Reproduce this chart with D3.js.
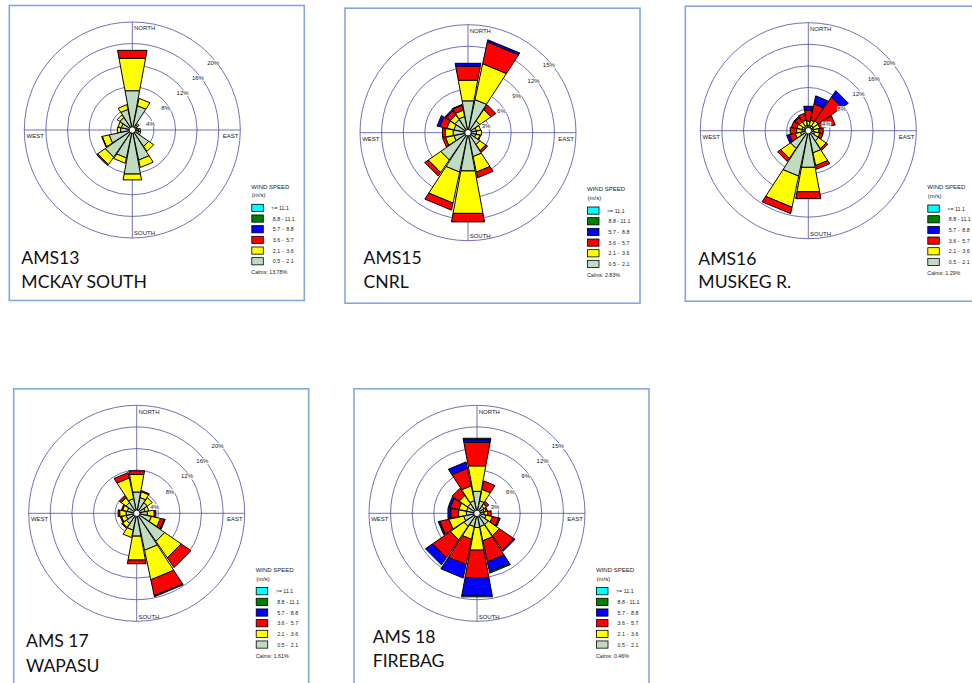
<!DOCTYPE html>
<html>
<head>
<meta charset="utf-8">
<script src="https://cdn.jsdelivr.net/npm/d3@7"></script>
<style>
  body { margin: 0; background: #ffffff; }
  svg { display: block; }
</style>
</head>
<body>
<svg id="chart" width="972" height="683"></svg>
<script>
// Compass sectors, clockwise from north
const directions = ["N","NNE","NE","ENE","E","ESE","SE","SSE","S","SSW","SW","WSW","W","WNW","NW","NNW"];
// Wind speed classes (m/s), lowest first
const speedClasses = ["0.5 -  2.1","2.1 -  3.6","3.6 -  5.7","5.7 -  8.8","8.8 - 11.1",">= 11.1"];

const stationCodes = ["AMS13","AMS15","AMS16","AMS 17","AMS 18"];
const stationNames = ["MCKAY SOUTH","CNRL","MUSKEG R.","WAPASU","FIREBAG"];
const calmPercent = [13.78, 2.83, 1.29, 1.61, 0.46];

// Ring tick values (%)
const ringTicks20 = [4, 8, 12, 16, 20];
const ringTicks15 = [3, 6, 9, 12, 15];

// Frequency (%) per speed class (rows, lowest class first) and direction (columns)
const ams13Freq = [
  [7.4, 4.6, 1.2, 0.8, 1.2, 1.2, 3.7, 5.7, 8.3, 5.3, 6.1, 4.4, 2.2, 2.1, 2.8, 3.9],
  [6.1, 1.4, 0.3, 0.2, 0.3, 0.4, 1.1, 1.4, 1.1, 1.0, 1.7, 1.3, 0.6, 0.6, 0.6, 0.9],
  [1.5, 0.0, 0.0, 0.0, 0.0, 0.0, 0.0, 0.0, 0.0, 0.0, 0.2, 0.1, 0.0, 0.0, 0.0, 0.0]
];
const ams15Freq = [
  [4.5, 4.7, 2.0, 1.2, 1.2, 1.1, 2.0, 3.4, 5.4, 5.6, 4.6, 2.0, 2.1, 2.0, 2.2, 2.3],
  [2.9, 5.1, 1.9, 0.6, 0.7, 0.6, 1.0, 2.2, 6.0, 4.4, 2.1, 1.2, 1.1, 1.0, 0.8, 0.9],
  [2.0, 3.1, 0.8, 0.0, 0.0, 0.1, 0.3, 0.8, 1.2, 1.0, 0.6, 0.4, 0.4, 1.0, 0.7, 0.7],
  [0.4, 0.3, 0.0, 0.0, 0.0, 0.0, 0.0, 0.0, 0.0, 0.0, 0.0, 0.0, 0.0, 0.4, 0.2, 0.1]
];
const ams16Freq = [
  [1.0, 1.0, 1.1, 1.0, 1.0, 1.2, 2.3, 4.2, 6.9, 8.6, 4.0, 1.5, 1.2, 1.2, 1.0, 1.0],
  [0.8, 1.0, 1.1, 1.2, 1.0, 1.0, 1.7, 2.4, 4.6, 5.9, 2.2, 1.0, 1.0, 1.0, 1.0, 1.0],
  [2.1, 3.1, 5.4, 2.9, 0.8, 0.6, 0.4, 0.7, 1.3, 1.2, 0.7, 1.1, 1.2, 1.0, 1.0, 1.3],
  [0.7, 1.5, 1.4, 0.0, 0.0, 0.0, 0.0, 0.0, 0.0, 0.0, 0.0, 0.5, 0.0, 0.0, 0.2, 0.0]
];
const ams17Freq = [
  [4.0, 3.0, 2.4, 1.6, 2.0, 2.8, 6.3, 7.0, 4.3, 3.2, 2.3, 2.0, 2.0, 1.8, 2.4, 2.8],
  [3.3, 1.1, 1.1, 0.7, 1.3, 1.7, 3.7, 5.6, 4.5, 1.4, 0.9, 0.9, 1.2, 0.9, 1.1, 3.9],
  [0.7, 0.2, 0.0, 0.0, 0.3, 0.7, 2.2, 3.0, 0.7, 0.0, 0.2, 0.2, 0.3, 0.2, 0.4, 1.0],
  [0.0, 0.0, 0.0, 0.0, 0.0, 0.2, 0.0, 0.2, 0.0, 0.0, 0.0, 0.0, 0.0, 0.0, 0.0, 0.0]
];
const ams18Freq = [
  [3.1, 1.8, 1.2, 1.0, 1.0, 1.3, 1.9, 1.9, 2.0, 1.9, 2.2, 1.9, 1.5, 1.5, 1.6, 1.8],
  [3.6, 1.6, 0.4, 0.3, 0.5, 0.9, 1.9, 2.0, 3.2, 1.8, 2.3, 2.1, 1.1, 1.1, 1.4, 2.1],
  [3.3, 1.2, 0.4, 0.2, 0.5, 0.9, 2.4, 3.0, 3.9, 3.6, 3.0, 1.3, 1.1, 1.2, 1.2, 2.5],
  [0.4, 0.0, 0.0, 0.0, 0.0, 0.2, 0.2, 1.4, 2.5, 1.9, 1.2, 0.2, 0.4, 0.3, 0.0, 0.9],
  [0.2, 0.0, 0.0, 0.0, 0.0, 0.0, 0.0, 0.2, 0.2, 0.0, 0.0, 0.0, 0.0, 0.0, 0.0, 0.0]
];

const stationFreqs = [ams13Freq, ams15Freq, ams16Freq, ams17Freq, ams18Freq];
const stationTicks = [ringTicks20, ringTicks15, ringTicks20, ringTicks20, ringTicks15];

// ---- styling and layout ----
const classColors = ["#c0dcc0", "#ffff00", "#ff0000", "#0000ff", "#008000", "#00ffff"];
const gridColor = "#4d4da6";
const frameColor = "#85a7dc";
const outerRadius = 108;
const sectorHalf = (21 / 2) * Math.PI / 180;
const smallFont = "'Liberation Sans', Arial, sans-serif";

const panelLayout = [
  { cx: 132.3, cy: 130.0, tx: 21.3,  ty1: 264.3, ty2: 288.0 },
  { cx: 468.0, cy: 132.7, tx: 363.5, ty1: 264.3, ty2: 288.3 },
  { cx: 808.3, cy: 130.7, tx: 698.3, ty1: 264.6, ty2: 288.3 },
  { cx: 136.7, cy: 513.3, tx: 26.0,  ty1: 646.7, ty2: 671.5 },
  { cx: 477.0, cy: 513.3, tx: 372.7, ty1: 643.3, ty2: 666.8 }
];

const svg = d3.select("#chart");
svg.append("rect").attr("width", 972).attr("height", 683).attr("fill", "#ffffff");

const angle = d3.scaleLinear().domain([0, directions.length]).range([0, 2 * Math.PI]);
const polar = (r, a) => [r * Math.sin(a), -r * Math.cos(a)];
const line = d3.line();

stationCodes.forEach((code, si) => {
  const lay = panelLayout[si];
  const freq = stationFreqs[si];
  const ticks = stationTicks[si];
  const r = d3.scaleLinear().domain([0, d3.max(ticks)]).range([0, outerRadius]);

  // frame
  svg.append("rect")
    .attr("x", lay.cx - 123).attr("y", lay.cy - 124.5)
    .attr("width", 295).attr("height", 295)
    .attr("fill", "none").attr("stroke", frameColor).attr("stroke-width", 1.6);

  const g = svg.append("g").attr("transform", `translate(${lay.cx},${lay.cy})`);

  // rings and axes
  g.selectAll("circle.ring").data(ticks).join("circle")
    .attr("class", "ring").attr("r", d => r(d))
    .attr("fill", "none").attr("stroke", gridColor).attr("stroke-width", 0.8);
  g.append("line").attr("x1", -outerRadius).attr("x2", outerRadius).attr("y1", 0).attr("y2", 0)
    .attr("stroke", gridColor).attr("stroke-width", 0.8);
  g.append("line").attr("y1", -outerRadius).attr("y2", outerRadius).attr("x1", 0).attr("x2", 0)
    .attr("stroke", gridColor).attr("stroke-width", 0.8);

  // stacked petals
  const keys = d3.range(freq.length);
  const rows = directions.map((d, i) => {
    const row = { dir: d, idx: i };
    keys.forEach(k => { row[k] = freq[k][i]; });
    return row;
  });
  const series = d3.stack().keys(keys)(rows);
  const segs = [];
  series.forEach((s, k) => s.forEach(v => {
    if (v[1] - v[0] > 0) segs.push({ k, i: v.data.idx, y0: v[0], y1: v[1] });
  }));
  g.selectAll("path.petal").data(segs).join("path")
    .attr("class", "petal")
    .attr("d", d => {
      const a = angle(d.i);
      const r0 = r(d.y0), r1 = r(d.y1);
      const pts = r0 > 0
        ? [polar(r0, a - sectorHalf), polar(r1, a - sectorHalf), polar(r1, a + sectorHalf), polar(r0, a + sectorHalf)]
        : [[0, 0], polar(r1, a - sectorHalf), polar(r1, a + sectorHalf)];
      return line(pts) + "Z";
    })
    .attr("fill", d => classColors[d.k])
    .attr("stroke", "#000").attr("stroke-width", 1).attr("stroke-linejoin", "miter");

  // calm circle
  g.append("circle").attr("r", 3.2).attr("fill", "#fff").attr("stroke", "#000").attr("stroke-width", 0.9);

  // ring labels along the NE diagonal
  ticks.forEach(t => {
    const [px, py] = polar(r(t), Math.PI / 4);
    const txt = g.append("text")
      .attr("x", px - 1.5).attr("y", py + 11)
      .attr("font-family", smallFont).attr("font-size", 6).attr("fill", "#222")
      .text(t + "%");
    const w = txt.node().getComputedTextLength();
    g.insert("rect", () => txt.node())
      .attr("x", px - 2).attr("y", py + 6.2).attr("width", w + 1).attr("height", 5.8)
      .attr("fill", "#fff");
  });

  // compass labels
  const compass = [
    { t: "NORTH", x: 1.7, y: -outerRadius + 8.3, anchor: "start" },
    { t: "SOUTH", x: 1.7, y: outerRadius - 2.6, anchor: "start" },
    { t: "WEST", x: -outerRadius + 2.2, y: 8.0, anchor: "start" },
    { t: "EAST", x: outerRadius - 2.0, y: 8.0, anchor: "end" }
  ];
  g.selectAll("text.compass").data(compass).join("text")
    .attr("class", "compass")
    .attr("x", d => d.x).attr("y", d => d.y).attr("text-anchor", d => d.anchor)
    .attr("font-family", smallFont).attr("font-size", 6).attr("fill", "#222")
    .text(d => d.t);

  // legend
  const lg = g.append("g").attr("transform", "translate(119,0)");
  lg.append("text").attr("x", 0).attr("y", 58.7)
    .attr("font-family", smallFont).attr("font-size", 6).attr("fill", "#222").text("WIND SPEED");
  lg.append("text").attr("x", 0.5).attr("y", 67.3)
    .attr("font-family", smallFont).attr("font-size", 6).attr("fill", "#222").text("(m/s)");
  const legendOrder = d3.range(speedClasses.length).reverse();
  legendOrder.forEach((k, row) => {
    const y = 74.3 + row * 10.67;
    lg.append("rect").attr("x", 0.5).attr("y", y).attr("width", 11.5).attr("height", 7.2)
      .attr("fill", classColors[k]).attr("stroke", "#000").attr("stroke-width", 0.8);
    lg.append("text").attr("x", k === 5 ? 20 : 21.5).attr("y", y + 5.8)
      .attr("font-family", smallFont).attr("font-size", 5.3).attr("fill", "#222")
      .attr("xml:space", "preserve").style("white-space", "pre")
      .text(speedClasses[k]);
  });
  lg.append("text").attr("x", 0).attr("y", 144.3)
    .attr("font-family", smallFont).attr("font-size", 5.3).attr("fill", "#222")
    .text("Calms: " + calmPercent[si].toFixed(2) + "%");

  // station title
  svg.append("text").attr("x", lay.tx).attr("y", lay.ty1)
    .attr("font-family", "Lato, 'Open Sans', sans-serif").attr("font-size", 17.6).attr("fill", "#111")
    .text(code);
  svg.append("text").attr("x", lay.tx).attr("y", lay.ty2)
    .attr("font-family", "Lato, 'Open Sans', sans-serif").attr("font-size", 17.6).attr("fill", "#111")
    .text(stationNames[si]);
});
</script>
</body>
</html>
